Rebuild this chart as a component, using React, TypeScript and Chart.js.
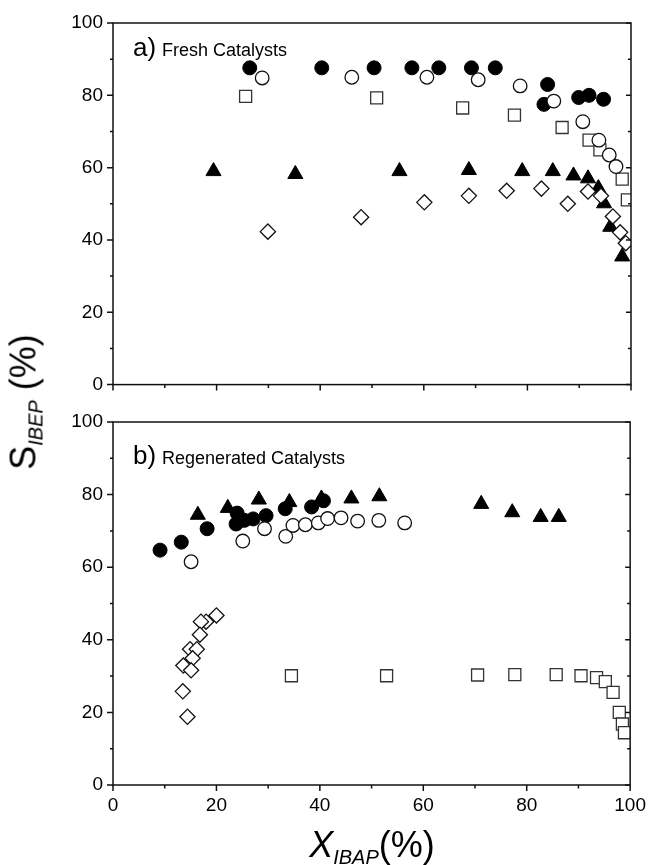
import React, { useEffect, useRef } from 'react';
import { Chart, registerables } from 'chart.js';
Chart.register(...registerables);

const FONT = '"Liberation Sans", Arial, Helvetica, sans-serif';

const xTickValues = [0, 20, 40, 60, 80, 100];
const yTickValues = [0, 20, 40, 60, 80, 100];

// ---- Panel a) Fresh Catalysts  [X_IBAP %, S_IBEP %]
const freshFilledCircles = [[26.4, 87.6], [40.3, 87.6], [50.4, 87.6], [57.7, 87.6], [62.9, 87.6], [69.2, 87.6], [73.8, 87.6], [83.9, 83.0], [83.2, 77.5], [89.9, 79.4], [91.9, 80.0], [94.7, 78.9]];
const freshOpenCircles = [[28.8, 84.8], [46.1, 85.0], [60.6, 85.0], [70.5, 84.3], [78.6, 82.6], [85.1, 78.4], [90.7, 72.7], [93.8, 67.6], [95.8, 63.5], [97.1, 60.3]];
const freshOpenSquares = [[25.6, 79.7], [50.9, 79.3], [67.5, 76.5], [77.5, 74.5], [86.7, 71.1], [91.9, 67.6], [94.0, 64.9], [98.3, 56.8], [99.3, 51.1]];
const freshTriangles = [[19.4, 59.0], [35.2, 58.2], [55.3, 59.0], [68.7, 59.3], [79.0, 59.0], [84.9, 59.0], [88.9, 57.8], [91.7, 57.0], [93.7, 54.3], [94.8, 50.1], [96.0, 43.6], [98.3, 35.4]];
const freshDiamonds = [[29.9, 42.3], [47.9, 46.3], [60.1, 50.4], [68.7, 52.2], [76.0, 53.6], [82.7, 54.2], [87.8, 50.0], [91.7, 53.4], [94.2, 52.2], [96.5, 46.5], [97.9, 42.1], [99.0, 39.1]];

// ---- Panel b) Regenerated Catalysts
const regenFilledCircles = [[9.1, 64.7], [13.2, 66.9], [18.2, 70.6], [24.0, 74.9], [23.8, 71.9], [25.4, 72.9], [27.1, 73.3], [29.6, 74.2], [33.3, 76.1], [38.4, 76.6], [40.7, 78.3]];
const regenOpenCircles = [[15.1, 61.5], [25.1, 67.2], [29.3, 70.6], [33.4, 68.5], [34.8, 71.5], [37.2, 71.7], [39.7, 72.2], [41.5, 73.4], [44.1, 73.6], [47.3, 72.7], [51.4, 72.9], [56.4, 72.2]];
const regenTriangles = [[16.4, 74.4], [22.2, 76.3], [28.2, 78.6], [34.1, 77.9], [40.3, 78.9], [46.1, 78.9], [51.5, 79.5], [71.2, 77.4], [77.2, 75.1], [82.7, 73.8], [86.2, 73.8]];
const regenDiamonds = [[20.0, 46.7], [18.0, 45.0], [17.0, 45.0], [16.8, 41.4], [14.9, 37.4], [16.2, 37.4], [15.4, 34.9], [13.6, 32.9], [15.1, 31.6], [13.5, 25.8], [14.4, 18.8]];
const regenOpenSquares = [[34.5, 30.1], [52.9, 30.1], [70.5, 30.3], [77.7, 30.4], [85.7, 30.4], [90.5, 30.1], [93.5, 29.6], [95.2, 28.5], [96.7, 25.5], [97.9, 20.0], [98.5, 16.8], [98.9, 14.4]];

const INK = '#111';

const toPts = (arr: number[][]) => arr.map(([x, y]) => ({ x, y }));

type Kind = 'filledCircle' | 'openCircle' | 'openSquare' | 'triangle' | 'diamond';

function ds(label: string, data: number[][], kind: Kind) {
  const base: any = {
    label,
    data: toPts(data),
    showLine: false,
    borderColor: INK,
    borderWidth: 1.3,
  };
  switch (kind) {
    case 'filledCircle':
      return { ...base, pointStyle: 'circle', pointRadius: 7, backgroundColor: '#000', borderColor: '#000', borderWidth: 1 };
    case 'openCircle':
      return { ...base, pointStyle: 'circle', pointRadius: 6.8, backgroundColor: '#fff' };
    case 'openSquare':
      return { ...base, pointStyle: 'rect', pointRadius: 8.5, backgroundColor: '#fff', borderColor: '#333' };
    case 'triangle':
      return { ...base, pointStyle: 'triangle', pointRadius: 8.7, backgroundColor: '#000', borderColor: '#000', borderWidth: 1 };
    case 'diamond':
      return { ...base, pointStyle: 'rectRot', pointRadius: 7.6, backgroundColor: '#fff' };
  }
}

const frameTicks = {
  id: 'frameTicks',
  afterDraw(chart: any, _args: any, opts: any) {
    const { ctx, chartArea: a, scales } = chart;
    const xs = scales.x;
    const ys = scales.y;
    ctx.save();
    ctx.strokeStyle = INK;
    ctx.lineWidth = 1.5;
    ctx.strokeRect(a.left, a.top, a.right - a.left, a.bottom - a.top);
    ctx.beginPath();
    for (let v = 0; v <= 100; v += 10) {
      const major = v % 20 === 0;
      const py = ys.getPixelForValue(v);
      ctx.moveTo(a.left, py);
      ctx.lineTo(a.left - (major ? 6 : 3), py);
      ctx.moveTo(a.right, py);
      ctx.lineTo(a.right - (major ? 5 : 3), py);
      const px = xs.getPixelForValue(v);
      ctx.moveTo(px, a.bottom);
      ctx.lineTo(px, a.bottom + (major ? 6 : 3.5));
    }
    ctx.stroke();
    if (opts && opts.letter) {
      ctx.fillStyle = '#000';
      ctx.textBaseline = 'alphabetic';
      ctx.textAlign = 'left';
      ctx.font = `26px ${FONT}`;
      ctx.fillText(opts.letter, a.left + 20, a.top + opts.dy);
      ctx.font = `18px ${FONT}`;
      ctx.fillText(opts.text, a.left + 49, a.top + opts.dy);
    }
    ctx.restore();
  },
};

interface PanelProps {
  top: number;
  height: number;
  padTop: number;
  xHeight: number;
  showXLabels: boolean;
  datasets: any[];
  letter: string;
  text: string;
  dy: number;
}

function Panel(p: PanelProps) {
  const ref = useRef<HTMLCanvasElement | null>(null);
  useEffect(() => {
    if (!ref.current) return;
    const chart = new Chart(ref.current, {
      type: 'scatter',
      data: { datasets: p.datasets },
      plugins: [frameTicks as any],
      options: {
        animation: false,
        responsive: false,
        devicePixelRatio: 1,
        events: [],
        layout: { padding: { left: 0, right: 18, top: p.padTop, bottom: 0 } },
        plugins: {
          legend: { display: false },
          tooltip: { enabled: false },
          frameTicks: { letter: p.letter, text: p.text, dy: p.dy },
        } as any,
        scales: {
          x: {
            type: 'linear',
            min: 0,
            max: 100,
            afterBuildTicks: (s: any) => { s.ticks = xTickValues.map((v) => ({ value: v })); },
            afterFit: (s: any) => { s.height = p.xHeight; },
            ticks: {
              display: p.showXLabels,
              padding: 3,
              color: '#000',
              font: { family: FONT, size: 19 },
              maxRotation: 0,
              autoSkip: false,
            },
            grid: { display: true, drawOnChartArea: false, drawTicks: true, tickLength: 6, tickColor: 'rgba(0,0,0,0)', color: 'rgba(0,0,0,0)' },
            border: { display: false },
          },
          y: {
            type: 'linear',
            min: 0,
            max: 100,
            afterBuildTicks: (s: any) => { s.ticks = yTickValues.map((v) => ({ value: v })); },
            afterFit: (s: any) => { s.width = 113; },
            ticks: {
              padding: 4,
              color: '#000',
              font: { family: FONT, size: 19 },
              autoSkip: false,
            },
            grid: { display: true, drawOnChartArea: false, drawTicks: true, tickLength: 6, tickColor: 'rgba(0,0,0,0)', color: 'rgba(0,0,0,0)' },
            border: { display: false },
          },
        },
      } as any,
    });
    return () => chart.destroy();
  }, []);
  return (
    <canvas
      ref={ref}
      width={649}
      height={p.height}
      style={{ position: 'absolute', left: 0, top: p.top, width: 649, height: p.height }}
    />
  );
}

export default function App() {
  const freshSets = [
    ds('fresh open circles', freshOpenCircles, 'openCircle'),
    ds('fresh diamonds', freshDiamonds, 'diamond'),
    ds('fresh squares', freshOpenSquares, 'openSquare'),
    ds('fresh filled circles', freshFilledCircles, 'filledCircle'),
    ds('fresh triangles', freshTriangles, 'triangle'),
  ];
  const regenSets = [
    ds('regen open circles', regenOpenCircles, 'openCircle'),
    ds('regen filled circles', regenFilledCircles, 'filledCircle'),
    ds('regen triangles', regenTriangles, 'triangle'),
    ds('regen diamonds', regenDiamonds, 'diamond'),
    ds('regen squares', regenOpenSquares, 'openSquare'),
  ];
  return (
    <div style={{ position: 'absolute', left: 0, top: 0, width: 649, height: 865, background: '#fff', overflow: 'hidden', fontFamily: FONT }}>
      <Panel top={0} height={400} padTop={23} xHeight={15} showXLabels={false} datasets={freshSets} letter="a)" text="Fresh Catalysts" dy={33} />
      <Panel top={400} height={465} padTop={22} xHeight={80} showXLabels={true} datasets={regenSets} letter="b)" text="Regenerated Catalysts" dy={42} />
      {/* Y axis title */}
      <div
        style={{
          position: 'absolute',
          left: 26,
          top: 402,
          transform: 'translate(-50%, -50%) rotate(-90deg)',
          whiteSpace: 'nowrap',
          fontSize: 36,
          lineHeight: '36px',
          color: '#000',
        }}
      >
        <span>S</span>
        <span style={{ fontSize: 20, fontStyle: 'italic', position: 'relative', top: 7 }}>IBEP</span>
        <span> (%)</span>
      </div>
      {/* X axis title */}
      <div
        style={{
          position: 'absolute',
          left: 372,
          top: 827,
          transform: 'translateX(-50%)',
          whiteSpace: 'nowrap',
          fontSize: 36,
          lineHeight: '36px',
          color: '#000',
        }}
      >
        <span style={{ fontStyle: 'italic' }}>X</span>
        <span style={{ fontSize: 20, fontStyle: 'italic', position: 'relative', top: 7 }}>IBAP</span>
        <span>(%)</span>
      </div>
    </div>
  );
}
